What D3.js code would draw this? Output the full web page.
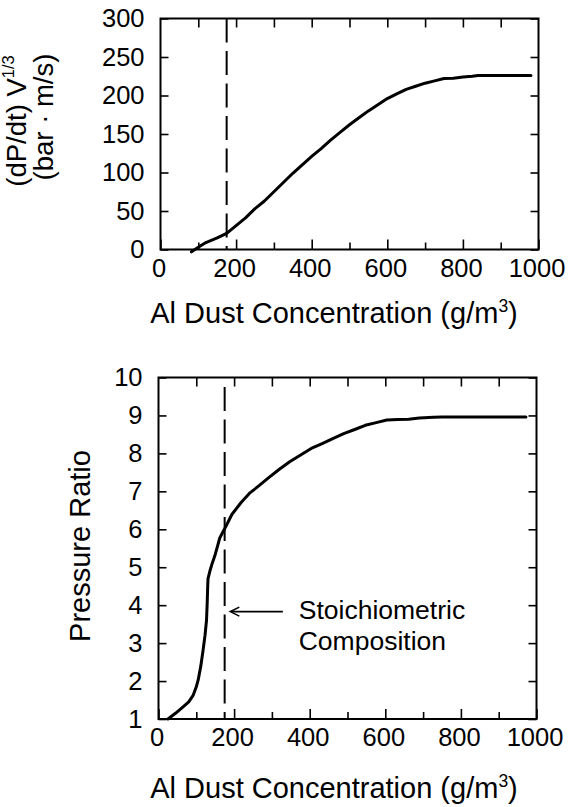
<!DOCTYPE html>
<html><head><meta charset="utf-8">
<script src="https://cdn.jsdelivr.net/npm/d3@7"></script>
<style>
body{margin:0;background:#fff}
svg text{font-family:"Liberation Sans",Arial,Helvetica,sans-serif;fill:#000}
</style>
</head><body>
<svg id="c" width="574" height="807"></svg>
<script>
// ---- data ----
const rateX = [82,100,120,150,175,200,225,250,275,300,325,350,375,400,425,450,475,500,525,550,575,600,625,650,675,700,725,750,775,800,825,840,900,980];
const rateY = [-3,3,9,15,21,31,41,53,63,75,87,99,110,121,131,142,152,162,171,180,188,196,202,208,212,216,219,222,222.5,224,225,226,226,226];
const ratioX = [25,45,65,80,92,100,105,112,118,123,127,129,130,131,136,142,149,156,162,170,178,194,218,242,266,290,318,347,376,404,433,461,490,519,547,576,604,633,662,690,728,750,972];
const ratioY = [1.0,1.15,1.32,1.45,1.63,1.85,2.03,2.4,2.82,3.2,3.6,4.1,4.45,4.7,4.9,5.1,5.3,5.55,5.77,5.92,6.07,6.39,6.70,6.96,7.15,7.35,7.57,7.78,7.96,8.13,8.26,8.39,8.52,8.63,8.74,8.81,8.88,8.89,8.90,8.93,8.95,8.96,8.96];
const xMajorTicks = [0,200,400,600,800,1000];
const xMinorTicks = [100,300,500,700,900];
const xTopTicks = [100,200,300,400,500,600,700,800,900];
const rateTicks = [0,50,100,150,200,250,300];
const ratioTicks = [1,2,3,4,5,6,7,8,9,10];
const stoichiometric = 175;
const xTitle = "Al Dust Concentration (g/m";
const annotation = ["Stoichiometric","Composition"];
const annotationAt = {arrowFrom:329, arrowTo:190, y:3.83, textX:371};

const svg = d3.select("#c");

function panel(cfg){
  const x = d3.scaleLinear().domain([0,1000]).range(cfg.xr);
  const y = d3.scaleLinear().domain(cfg.yd).range(cfg.yr);
  const g = svg.append("g");
  const [x0,x1] = cfg.xr, [yb,yt] = cfg.yr;
  const tickStyle = sel => { sel.select(".domain").remove(); sel.selectAll("line").attr("stroke","#000").attr("stroke-width",1.6); };
  g.append("g").attr("transform",`translate(0,${yb})`)
    .call(d3.axisBottom(x).tickValues(xMajorTicks).tickSize(-10).tickPadding(9).tickFormat(d3.format("d")))
    .call(tickStyle)
    .call(s=>s.selectAll("text").attr("font-size",25.5).attr("dx",-2).attr("font-family",null));
  g.append("g").attr("transform",`translate(0,${yb})`)
    .call(d3.axisBottom(x).tickValues(xMinorTicks).tickSize(-7).tickFormat(""))
    .call(tickStyle);
  g.append("g").attr("transform",`translate(0,${yt})`)
    .call(d3.axisTop(x).tickValues(xTopTicks).tickSize(-9).tickFormat(""))
    .call(tickStyle);
  g.append("g").attr("transform",`translate(${x0},0)`)
    .call(d3.axisLeft(y).tickValues(cfg.yTicks).tickSize(-8).tickPadding(16).tickFormat(d3.format("d")))
    .call(tickStyle)
    .call(s=>s.selectAll("text").attr("font-size",25.5).attr("font-family",null));
  g.append("g").attr("transform",`translate(${x1},0)`)
    .call(d3.axisRight(y).tickValues(cfg.yTicks).tickSize(-8).tickFormat(""))
    .call(tickStyle);
  g.append("rect").attr("x",x0).attr("y",yt).attr("width",x1-x0).attr("height",yb-yt)
    .attr("fill","none").attr("stroke","#000").attr("stroke-width",2);
  g.append("line").attr("x1",x(stoichiometric)).attr("x2",x(stoichiometric))
    .attr("y1",y(cfg.dashTop)).attr("y2",yb)
    .attr("stroke","#000").attr("stroke-width",2).attr("stroke-dasharray","24,8.5");
  const pts = cfg.xs.map((v,i)=>[v,cfg.ys[i]]);
  g.append("path").datum(pts)
    .attr("d", d3.line().x(d=>x(d[0])).y(d=>y(d[1])))
    .attr("fill","none").attr("stroke","#000").attr("stroke-width",3)
    .attr("stroke-linejoin","round").attr("stroke-linecap","round");
  const t = g.append("text").attr("x",334).attr("y",cfg.titleY).attr("text-anchor","middle").attr("font-size",29);
  t.append("tspan").text(xTitle);
  t.append("tspan").attr("font-size",17.5).attr("dy",-11.5).text("3");
  t.append("tspan").attr("dy",11.5).text(")");
  return {x,y,g};
}

const p1 = panel({xr:[160.5,538.5], yd:[0,300], yr:[249.5,18.5], yTicks:rateTicks,
  xs:rateX, ys:rateY, dashTop:300, titleY:323});
const p2 = panel({xr:[158.5,536.5], yd:[1,10], yr:[719,377.5], yTicks:ratioTicks,
  xs:ratioX, ys:ratioY, dashTop:9.75, titleY:798});

// y titles
const yt1 = svg.append("text").attr("transform","translate(25.5,121) rotate(-90)")
  .attr("text-anchor","middle").attr("font-size",27.5);
yt1.append("tspan").text("(dP/dt) V");
yt1.append("tspan").attr("font-size",16.5).attr("dy",-11.5).text("1/3");
svg.append("text").attr("transform","translate(53,117) rotate(-90)")
  .attr("text-anchor","middle").attr("font-size",27.5).text("(bar · m/s)");
svg.append("text").attr("transform","translate(89.5,546) rotate(-90)")
  .attr("text-anchor","middle").attr("font-size",29).text("Pressure Ratio");

// annotation
const ay = p2.y(annotationAt.y);
const ax0 = p2.x(annotationAt.arrowFrom), ax1 = p2.x(annotationAt.arrowTo);
svg.append("line").attr("x1",ax0).attr("x2",ax1+1).attr("y1",ay).attr("y2",ay)
  .attr("stroke","#000").attr("stroke-width",1.6);
svg.append("path").attr("d",`M${ax1+9},${ay-4.5}L${ax1},${ay}L${ax1+9},${ay+4.5}`)
  .attr("fill","none").attr("stroke","#000").attr("stroke-width",1.6);
const at = svg.append("text").attr("font-size",26.5);
at.append("tspan").attr("x",p2.x(annotationAt.textX)).attr("y",618.5).text(annotation[0]);
at.append("tspan").attr("x",p2.x(annotationAt.textX)).attr("y",650).text(annotation[1]);
</script>
</body></html>
